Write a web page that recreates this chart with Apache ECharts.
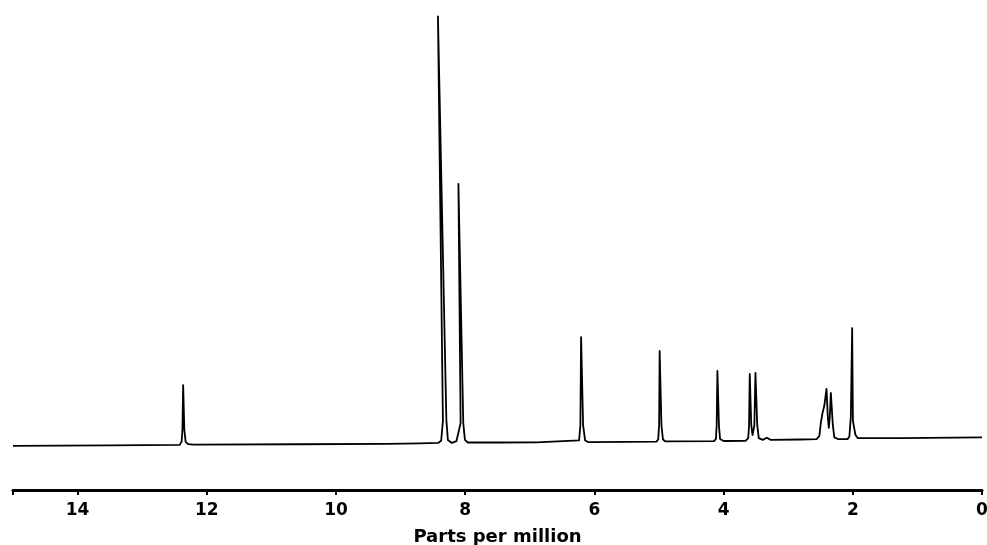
<!DOCTYPE html>
<html>
<head>
<meta charset="utf-8">
<title>NMR spectrum</title>
<script src="https://cdn.jsdelivr.net/npm/echarts@6/dist/echarts.min.js"></script>
<style>
  html, body { margin: 0; padding: 0; background: #fff; }
  #chart { width: 987px; height: 545px; }
</style>
</head>
<body>
<div id="chart"></div>
<script>
// Chemical shift (ppm) of each traced point, in drawing order (high field on the right)
const shiftPpm = [
  15.00, 13.50, 12.42, 12.390, 12.377, 12.366, 12.348, 12.328, 12.290, 12.200,
  10.60, 9.20, 8.709, 8.420,
  8.372, 8.345, 8.422, 8.291, 8.268, 8.206,
  8.136, 8.071, 8.105, 8.030, 8.004, 7.960, 7.469,
  6.90, 6.237, 6.217, 6.206, 6.175, 6.144, 6.100,
  5.50, 5.040, 5.013, 4.998, 4.990, 4.962, 4.939, 4.900,
  4.150, 4.119, 4.107, 4.096, 4.072, 4.055, 4.000,
  3.660, 3.619, 3.606, 3.595, 3.572, 3.552, 3.524, 3.507, 3.479, 3.456, 3.394, 3.332, 3.270,
  2.820, 2.560, 2.518, 2.495, 2.472, 2.441, 2.407, 2.387, 2.371, 2.356, 2.340, 2.309, 2.286, 2.230,
  2.080, 2.053, 2.030, 2.010, 1.998, 1.960, 1.922, 1.271, 0.00
];

// Signal intensity (arbitrary units) at each point above
const intensity = [
  0.2, 0.35, 0.45, 1.2, 4.0, 14.3, 4.0, 1.2, 0.6, 0.5,
  0.6, 0.7, 0.8, 0.9,
  1.4, 6.0, 99.7, 6.0, 1.6, 0.9,
  1.3, 5.5, 60.9, 5.5, 1.6, 1.0, 1.0,
  1.05, 1.5, 5.0, 25.4, 5.0, 1.5, 1.1,
  1.15, 1.2, 1.7, 5.0, 22.2, 5.0, 1.7, 1.25,
  1.3, 1.8, 5.0, 17.6, 5.0, 1.8, 1.35,
  1.4, 2.0, 5.0, 16.9, 5.0, 2.7, 5.0, 17.1, 5.0, 2.0, 1.6, 2.1, 1.6,
  1.7, 1.8, 2.5, 5.5, 7.6, 9.5, 13.4, 7.0, 4.4, 7.0, 12.5, 5.0, 2.2, 1.8,
  1.8, 2.4, 7.0, 27.5, 6.0, 2.8, 2.0, 2.0, 2.2
];

// Axis ticks and labels
const tickValues = [15, 14, 12, 10, 8, 6, 4, 2, 0];
const labelValues = [14, 12, 10, 8, 6, 4, 2, 0];
const axisTitle = 'Parts per million';

const spectrum = shiftPpm.map((x, i) => [x, intensity[i]]);

const chart = echarts.init(document.getElementById('chart'), null, { renderer: 'canvas' });

chart.setOption({
  animation: false,
  backgroundColor: '#ffffff',
  grid: {
    left: 13, right: 5, top: 15, bottom: 55,
    containLabel: false,
    outerBoundsMode: 'none'
  },
  xAxis: {
    type: 'value',
    inverse: true,
    min: 0,
    max: 15,
    name: axisTitle,
    nameLocation: 'middle',
    nameGap: 38,
    nameTextStyle: {
      fontFamily: 'DejaVu Sans',
      fontWeight: 'bold',
      fontSize: 18,
      color: '#000'
    },
    axisLine: { show: true, onZero: false, lineStyle: { color: '#000', width: 3 } },
    axisTick: {
      show: true,
      customValues: tickValues,
      length: 5,
      lineStyle: { color: '#000', width: 2 }
    },
    axisLabel: {
      show: true,
      customValues: labelValues,
      margin: 12,
      fontFamily: 'DejaVu Sans',
      fontWeight: 'bold',
      fontSize: 17,
      color: '#000'
    },
    splitLine: { show: false }
  },
  yAxis: {
    type: 'value',
    min: -10,
    max: 100,
    show: false,
    splitLine: { show: false }
  },
  series: [{
    type: 'line',
    data: spectrum,
    showSymbol: false,
    symbol: 'none',
    clip: false,
    lineStyle: { color: '#000', width: 1.8, join: 'round' },
    emphasis: { disabled: true }
  }]
});
</script>
</body>
</html>
